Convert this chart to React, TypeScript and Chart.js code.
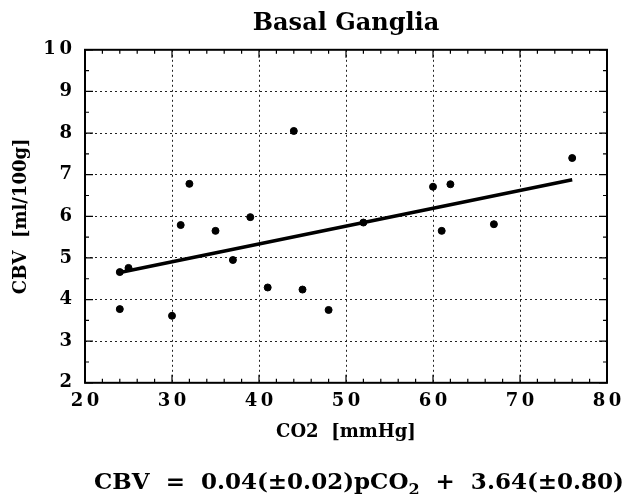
import React, { useEffect, useRef } from "react";
import { Chart, registerables } from "chart.js";

Chart.register(...registerables);

// ---- data ----
const co2Values = [24, 25, 24, 30, 31, 32, 35, 37, 39, 41, 44, 45, 48, 52, 60, 61, 62, 67, 76];
const cbvValues = [4.66, 4.76, 3.77, 3.61, 5.79, 6.78, 5.65, 4.95, 5.98, 4.29, 8.05, 4.24, 3.75, 5.85, 6.71, 5.65, 6.77, 5.81, 7.4];

const fitX = [24, 76];
const fitY = [4.65, 6.88];

const xRange = [20, 80];
const yRange = [2, 10];
const xStep = 10;
const yStep = 1;
const xMinorStep = 2;
const yMinorStep = 0.5;

const TITLE = "Basal Ganglia";
const X_TITLE = "CO2  [mmHg]";
const Y_TITLE = "CBV  [ml/100g]";
const FORMULA_LEFT = "CBV  =  0.04(\u00B10.02)pCO";
const FORMULA_SUB = "2";
const FORMULA_RIGHT = "  +  3.64(\u00B10.80)";

const FAMILY = "'DejaVu Serif', 'Liberation Serif', serif";

const spaced = (v: number | string) => String(v).split("").join("\u2009");

const framePlugin = {
  id: "frameAndMinorTicks",
  afterDraw(chart: any) {
    const ctx = chart.ctx as CanvasRenderingContext2D;
    const xs = chart.scales.x;
    const ys = chart.scales.y;
    const { left, right, top, bottom } = chart.chartArea;
    ctx.save();
    ctx.strokeStyle = "#000";
    ctx.lineWidth = 1.2;
    ctx.beginPath();
    for (let v = xs.min; v <= xs.max + 1e-9; v += xMinorStep) {
      const px = xs.getPixelForValue(v);
      const len = Math.abs(v % xStep) < 1e-9 ? 8 : 4;
      ctx.moveTo(px, bottom);
      ctx.lineTo(px, bottom - len);
      ctx.moveTo(px, top);
      ctx.lineTo(px, top + len);
    }
    for (let v = ys.min; v <= ys.max + 1e-9; v += yMinorStep) {
      const py = ys.getPixelForValue(v);
      const len = Math.abs(v % yStep) < 1e-9 ? 8 : 4;
      ctx.moveTo(left, py);
      ctx.lineTo(left + len, py);
      ctx.moveTo(right, py);
      ctx.lineTo(right - len, py);
    }
    ctx.stroke();
    ctx.lineWidth = 2;
    ctx.strokeRect(left, top, right - left, bottom - top);
    ctx.restore();
  },
};

const formulaPlugin = {
  id: "formula",
  afterDraw(chart: any) {
    const ctx = chart.ctx as CanvasRenderingContext2D;
    const main = `bold 23px ${FAMILY}`;
    const sub = `bold 16px ${FAMILY}`;
    const parts = [
      { t: FORMULA_LEFT, f: main, dy: 0 },
      { t: FORMULA_SUB, f: sub, dy: 6 },
      { t: FORMULA_RIGHT, f: main, dy: 0 },
    ];
    ctx.save();
    ctx.fillStyle = "#000";
    ctx.textBaseline = "alphabetic";
    ctx.textAlign = "left";
    let total = 0;
    const widths = parts.map((p) => {
      ctx.font = p.f;
      const w = ctx.measureText(p.t).width;
      total += w;
      return w;
    });
    const centerX = 359;
    const baseY = 489;
    let x = centerX - total / 2;
    parts.forEach((p, i) => {
      ctx.font = p.f;
      ctx.fillText(p.t, x, baseY + p.dy);
      x += widths[i];
    });
    ctx.restore();
  },
};

export default function App() {
  const ref = useRef<HTMLCanvasElement | null>(null);
  useEffect(() => {
    if (!ref.current) return;
    const tickFont = { family: FAMILY, size: 18, weight: "bold" as const };
    const chart = new Chart(ref.current, {
      type: "scatter",
      data: {
        datasets: [
          {
            type: "line",
            data: fitX.map((x, i) => ({ x, y: fitY[i] })),
            borderColor: "#000",
            borderWidth: 3.5,
            pointRadius: 0,
            fill: false,
            order: 1,
          } as any,
          {
            type: "scatter",
            data: co2Values.map((x, i) => ({ x, y: cbvValues[i] })),
            backgroundColor: "#000",
            borderColor: "#000",
            pointRadius: 3.5,
            order: 0,
          },
        ],
      },
      options: {
        animation: false,
        responsive: true,
        maintainAspectRatio: false,
        layout: { padding: { left: 0, right: 17, top: 0, bottom: 51 } },
        plugins: {
          legend: { display: false },
          tooltip: { enabled: false },
          title: {
            display: true,
            text: TITLE,
            fullSize: false,
            color: "#000",
            font: { family: FAMILY, size: 24, weight: "bold" },
            padding: { top: 9, bottom: 12 },
          },
        },
        scales: {
          x: {
            type: "linear",
            min: xRange[0],
            max: xRange[1],
            ticks: {
              stepSize: xStep,
              padding: 8,
              color: "#000",
              font: tickFont,
              maxRotation: 0,
              callback: (v: any) => spaced(v),
            },
            grid: { color: "#222", lineWidth: 1, drawTicks: false },
            border: { display: false, dash: [2, 3] },
            title: {
              display: true,
              text: X_TITLE,
              color: "#000",
              font: { family: FAMILY, size: 18, weight: "bold" },
              padding: { top: 1, bottom: 0 },
            },
            afterFit: (s: any) => {
              s.paddingRight = 0;
              s.paddingLeft = 0;
            },
          },
          y: {
            type: "linear",
            min: yRange[0],
            max: yRange[1],
            ticks: {
              stepSize: yStep,
              padding: 13,
              color: "#000",
              font: tickFont,
              callback: (v: any) => spaced(v),
            },
            grid: { color: "#222", lineWidth: 1, drawTicks: false },
            border: { display: false, dash: [2, 3] },
            title: {
              display: true,
              text: Y_TITLE,
              color: "#000",
              font: { family: FAMILY, size: 18, weight: "bold" },
              padding: { top: 11, bottom: 10 },
            },
            afterFit: (s: any) => {
              s.width = 85;
            },
          },
        },
      },
      plugins: [framePlugin, formulaPlugin],
    });
    return () => chart.destroy();
  }, []);
  return (
    <div style={{ position: "absolute", left: 0, top: 0, width: 624, height: 494, background: "#fff" }}>
      <canvas ref={ref} />
    </div>
  );
}
